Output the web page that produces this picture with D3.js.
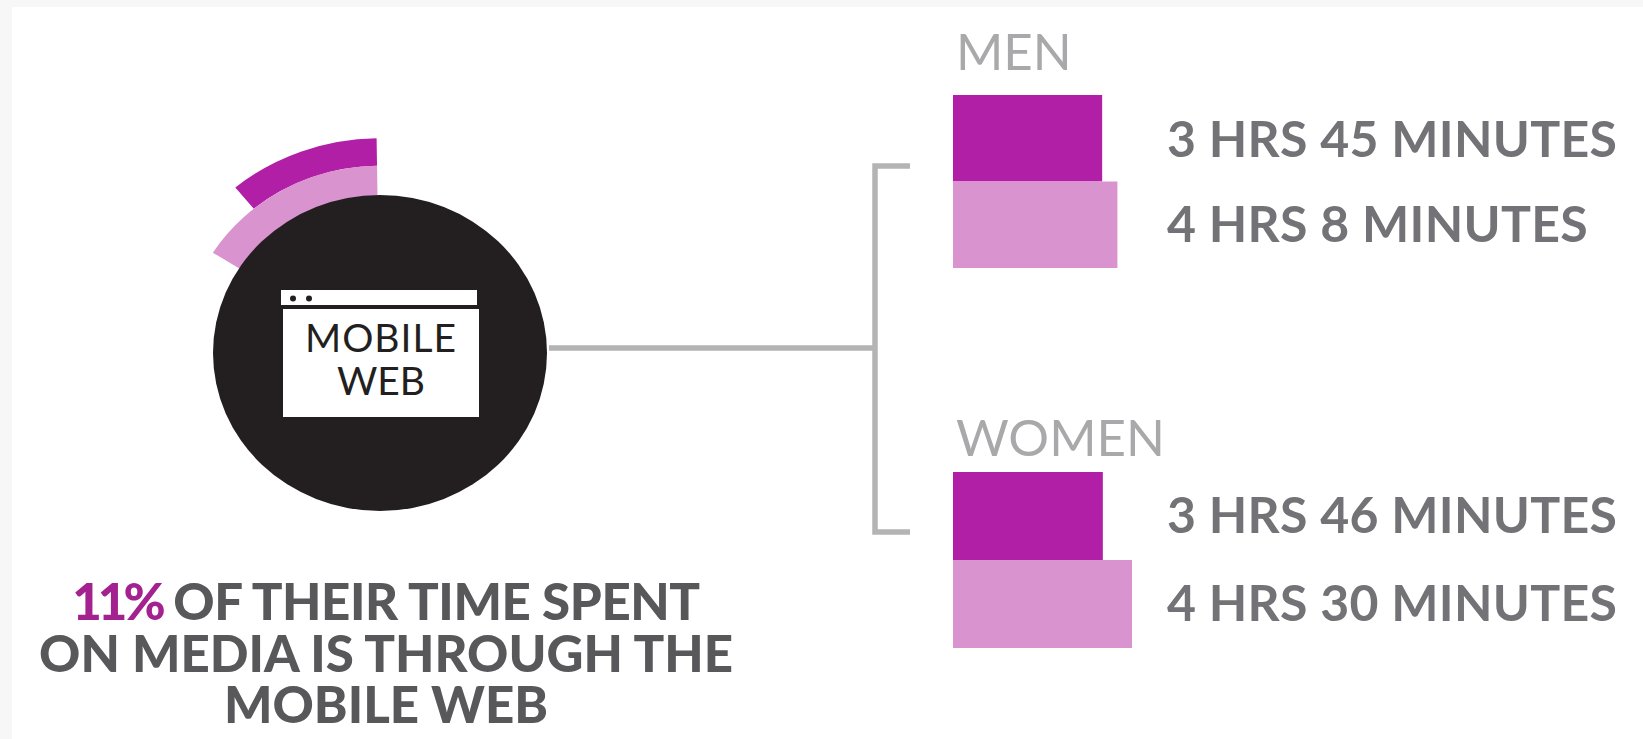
<!DOCTYPE html>
<html>
<head>
<meta charset="utf-8">
<script src="https://cdn.jsdelivr.net/npm/d3@7/dist/d3.min.js"></script>
<style>
  html, body { margin: 0; padding: 0; background: #f7f7f7; }
  svg { display: block; }
  text { font-family: Lato, "Open Sans", sans-serif; }
</style>
</head>
<body>
<svg id="chart" width="1643" height="739"></svg>
<script>
// Minutes spent on the mobile web per group, one pair of bars each
const groups = ["MEN", "WOMEN"];
const men = [225, 248];
const women = [226, 270];
const menLabels = ["3 HRS 45 MINUTES", "4 HRS 8 MINUTES"];
const womenLabels = ["3 HRS 46 MINUTES", "4 HRS 30 MINUTES"];
const seriesColors = ["#b01fa5", "#d993cf"];

// Share of media time drawn as the two arcs above the circle
const arcShares = [0.11, 0.16];
const iconLines = ["MOBILE", "WEB"];
const captionLines = [["11%", " OF THEIR TIME SPENT"], ["", "ON MEDIA IS THROUGH THE"], ["", "MOBILE WEB"]];

const svg = d3.select("#chart");

// Page panel
svg.append("rect").attr("x", 12).attr("y", 7).attr("width", 1631).attr("height", 732).attr("fill", "#ffffff");

// Bars
const barLeft = 953;
const x = d3.scaleLinear().domain([0, 270]).range([barLeft, 1132]);
const y = d3.scaleBand().domain([0, 1]).paddingInner(0).paddingOuter(0);

const blocks = [
  { name: groups[0], values: men, labels: menLabels, top: 95, bottom: 268, titleY: 70, labelY: [157, 242] },
  { name: groups[1], values: women, labels: womenLabels, top: 472, bottom: 648, titleY: 456, labelY: [533, 621] }
];

blocks.forEach(block => {
  const band = y.copy().range([block.top, block.bottom]);
  const g = svg.append("g");
  g.selectAll("rect").data(block.values).join("rect")
    .attr("x", barLeft)
    .attr("y", (d, i) => band(i))
    .attr("width", d => x(d) - barLeft)
    .attr("height", band.bandwidth())
    .attr("fill", (d, i) => seriesColors[i]);
  g.append("text")
    .attr("x", 956).attr("y", block.titleY)
    .attr("font-size", 51).attr("fill", "#a9a9ab")
    .text(block.name);
  g.selectAll("text.value").data(block.labels).join("text")
    .attr("class", "value")
    .attr("x", 1167)
    .attr("y", (d, i) => block.labelY[i])
    .attr("font-size", 50).attr("font-weight", 700)
    .attr("letter-spacing", 0.3).attr("fill", "#737377")
    .text(d => d);
});

// Bracket joining the circle to both groups
const bracket = d3.path();
bracket.moveTo(910, 166); bracket.lineTo(875, 166); bracket.lineTo(875, 532); bracket.lineTo(910, 532);
bracket.moveTo(549, 348); bracket.lineTo(875, 348);
svg.append("path").attr("d", bracket.toString())
  .attr("fill", "none").attr("stroke", "#b4b4b4").attr("stroke-width", 5.5);

// Circle with its share arcs; the whole badge is slightly flattened
const cx = 380, cy = 353, r = 167;
const hub = svg.append("g").attr("transform", `translate(${cx},${cy}) scale(1,0.946)`);
const arcRadii = [[198, 227], [r - 1, 198]];
const angle = d3.scaleLinear().domain([0, 1]).range([0, -2 * Math.PI]);
hub.selectAll("path").data(arcShares).join("path")
  .attr("d", (d, i) => d3.arc()({
    innerRadius: arcRadii[i][0], outerRadius: arcRadii[i][1],
    startAngle: angle(d), endAngle: -0.015
  }))
  .attr("fill", (d, i) => seriesColors[i]);
hub.append("circle").attr("r", r).attr("fill", "#231f20");

// Browser window icon
const icon = svg.append("g");
icon.append("rect").attr("x", 281).attr("y", 290).attr("width", 196).attr("height", 15).attr("fill", "#ffffff");
icon.append("rect").attr("x", 283).attr("y", 309).attr("width", 196).attr("height", 108).attr("fill", "#ffffff");
icon.selectAll("circle").data([293, 309]).join("circle")
  .attr("cx", d => d).attr("cy", 298.5).attr("r", 3).attr("fill", "#231f20");
icon.selectAll("text").data(iconLines).join("text")
  .attr("x", 381)
  .attr("y", (d, i) => [352, 395][i])
  .attr("text-anchor", "middle")
  .attr("font-size", 39).attr("letter-spacing", (d, i) => i ? 0 : 1).attr("fill", "#231f20")
  .text(d => d);

// Caption below the circle
const caption = svg.append("text").attr("text-anchor", "middle")
  .attr("font-size", 51).attr("font-weight", 900).attr("fill", "#58585a");
captionLines.forEach((line, i) => {
  const t = caption.append("tspan").attr("x", 386).attr("y", [620, 672, 723][i]);
  if (line[0]) t.append("tspan").attr("fill", "#a3228f").attr("letter-spacing", -4).text(line[0]);
  t.append("tspan").attr("letter-spacing", i === 0 ? -0.4 : 0).text(line[1]);
});
</script>
</body>
</html>
